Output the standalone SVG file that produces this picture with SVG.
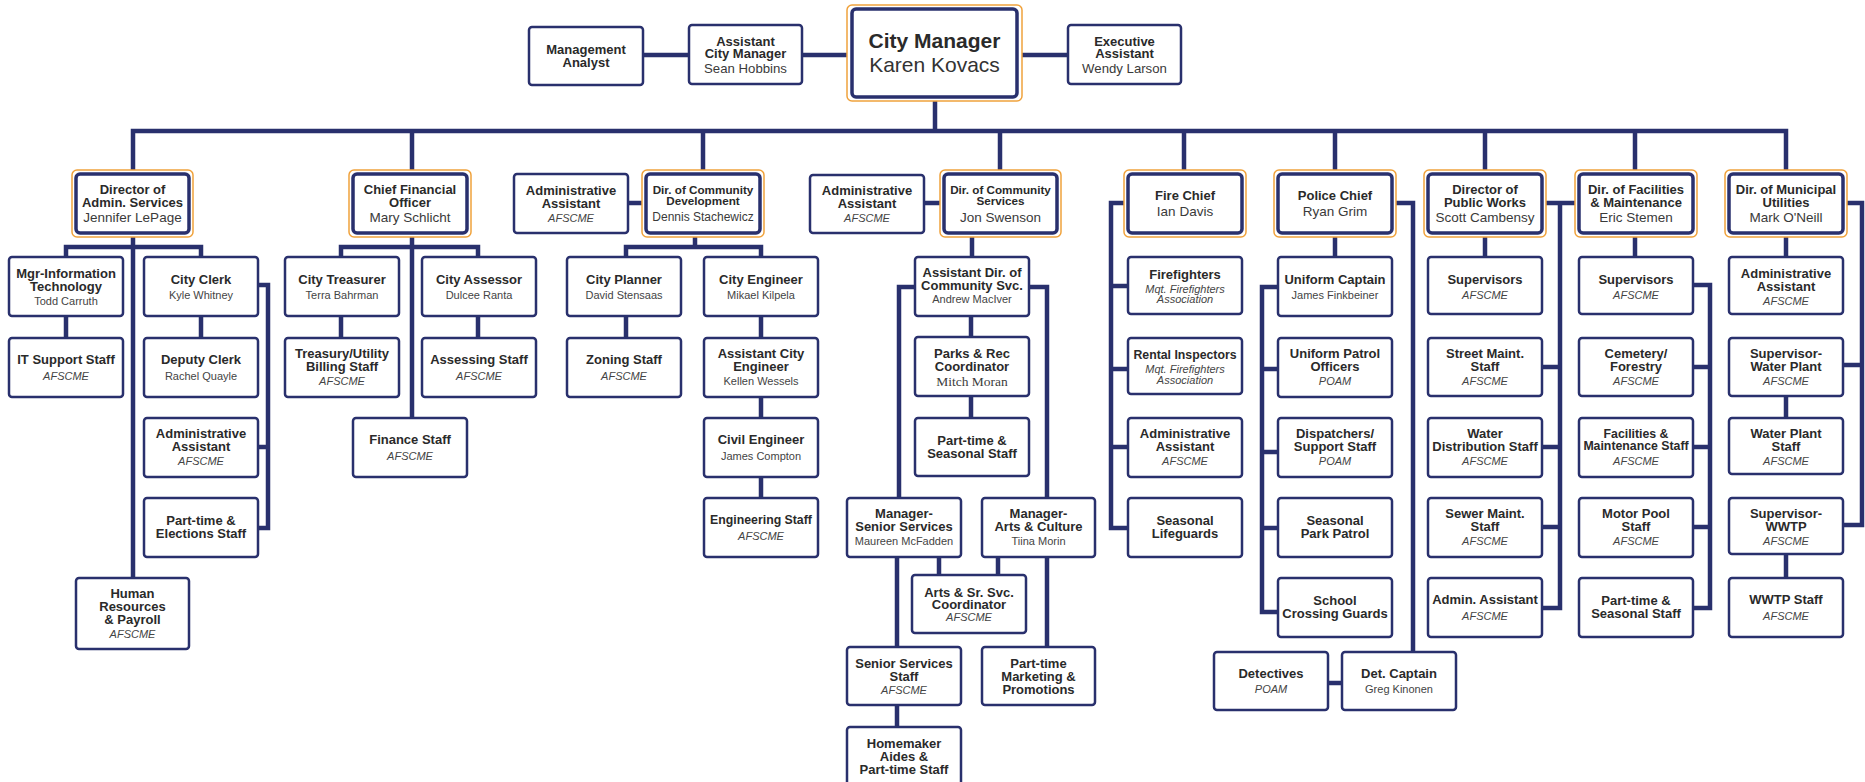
<svg xmlns="http://www.w3.org/2000/svg" width="1865" height="782" viewBox="0 0 1865 782">
<defs>
<style>
.bx{fill:#fff;stroke:#29306d;stroke-width:2.5}
.dx{fill:#fff;stroke:#29306d;stroke-width:3.5}
.ox{fill:#fff;stroke:#f0a23c;stroke-width:1.5}
.c{fill:none;stroke:#29306d;stroke-width:4.5;stroke-linejoin:miter;stroke-linecap:butt}
text{font-family:"Liberation Sans",Arial,sans-serif;text-anchor:middle}
.t{font-size:13px;font-weight:bold;fill:#2a2a2a}
.ts{font-size:12.3px;font-weight:bold;fill:#2a2a2a}
.n{font-size:11px;fill:#444}
.ns{font-size:13.5px;fill:#3c3c3c;font-family:"Liberation Serif",serif}
.u{font-size:11px;font-style:italic;fill:#444}
.dt{font-size:13px;font-weight:bold;fill:#2a2a2a}
.dts{font-size:11.7px;font-weight:bold;fill:#2a2a2a}
.dn{font-size:13.5px;fill:#3a3a3a}
.cm{font-size:21px;font-weight:bold;fill:#2a2a2a}
.cn{font-size:21px;fill:#333}
</style>
</defs>
<rect width="1865" height="782" fill="#fff"/>
<g id="connectors">
<path class="c" d="M643 55H689M802 55H852M1017 55H1068M935 97V131"/>
<path class="c" d="M133 171V131H1786V171M412 131V171M703 131V171M1000 131V171M1184 131V171M1335 131V171M1485 131V171M1635 131V171"/>
<path class="c" d="M628 203H646M924 203H944"/>
<path class="c" d="M66 257V247H201V257M133 233V578M66 316V338M201 316V338M258 285H268V528H258M258 447H268"/>
<path class="c" d="M341 257V247H478V257M412 233V418M341 316V338M478 316V338"/>
<path class="c" d="M695 233V247M626 257V247H761V498M626 316V338"/>
<path class="c" d="M972 233V257M971 316V337M971 396V418M915 287H899V498M1029 287H1047V498M939 557V575M998 557V575M897 557V647M897 705V727M1047 557V647"/>
<path class="c" d="M1128 203H1111V528H1128M1111 286H1128M1111 369H1128M1111 447H1128"/>
<path class="c" d="M1335 233V257M1278 287H1262V612H1278M1262 369H1278M1262 452H1278M1262 528H1278M1392 203H1413V652M1328 683H1342"/>
<path class="c" d="M1485 233V257M1542 203H1579M1560 203V608H1542M1542 367H1560M1542 447H1560M1542 527H1560"/>
<path class="c" d="M1635 233V257M1693 285H1710V608H1693M1693 367H1710M1693 447H1710M1693 527H1710"/>
<path class="c" d="M1786 233V257M1786 396V418M1786 554V578M1843 203H1862V525H1843M1843 365H1862"/>
</g>

<g id="management-analyst"><rect class="bx" x="529" y="27" width="114" height="58" rx="3"/><text class="t"><tspan x="586" y="53.8">Management</tspan><tspan x="586" y="67.2">Analyst</tspan></text></g>
<g id="assistant-city-manager"><rect class="bx" x="689" y="25" width="113" height="59" rx="3"/><text class="t"><tspan x="745.5" y="46.2">Assistant</tspan><tspan x="745.5" y="58.2">City Manager</tspan></text><text class="dn" x="745.5" y="73.3" style="font-size:13.2px">Sean Hobbins</text></g>
<g id="city-manager"><rect class="ox" x="847" y="5" width="175" height="96" rx="5"/><rect class="dx" x="852" y="9" width="165" height="88" rx="4"/><text class="cm" x="934.5" y="47.5">City Manager</text><text class="cn" x="934.5" y="71.5">Karen Kovacs</text></g>
<g id="executive-assistant"><rect class="bx" x="1068" y="25" width="113" height="59" rx="3"/><text class="t"><tspan x="1124.5" y="46.2">Executive</tspan><tspan x="1124.5" y="58.2">Assistant</tspan></text><text class="dn" x="1124.5" y="73.3" style="font-size:13.2px">Wendy Larson</text></g>

<g id="dir-admin-services"><rect class="ox" x="72" y="170" width="121" height="67" rx="5"/><rect class="dx" x="76" y="174" width="113" height="59" rx="4"/><text class="dt"><tspan x="132.5" y="193.8">Director of</tspan><tspan x="132.5" y="206.8">Admin. Services</tspan></text><text class="dn" x="132.5" y="222">Jennifer LePage</text></g>
<g id="cfo"><rect class="ox" x="349" y="170" width="122" height="67" rx="5"/><rect class="dx" x="353" y="174" width="114" height="59" rx="4"/><text class="dt"><tspan x="410" y="193.8">Chief Financial</tspan><tspan x="410" y="206.8">Officer</tspan></text><text class="dn" x="410" y="222">Mary Schlicht</text></g>
<g id="cd-admin-assistant"><rect class="bx" x="514" y="174" width="114" height="59" rx="3"/><text class="t"><tspan x="571" y="195.2">Administrative</tspan><tspan x="571" y="207.8">Assistant</tspan></text><text class="u" x="571" y="221.7">AFSCME</text></g>
<g id="dir-community-development"><rect class="ox" x="642" y="170" width="122" height="67" rx="5"/><rect class="dx" x="646" y="174" width="114" height="59" rx="4"/><text class="dts"><tspan x="703" y="194">Dir. of Community</tspan><tspan x="703" y="205">Development</tspan></text><text class="dn" x="703" y="221.3" style="font-size:12px">Dennis Stachewicz</text></g>
<g id="cs-admin-assistant"><rect class="bx" x="810" y="175" width="114" height="58" rx="3"/><text class="t"><tspan x="867" y="195.2">Administrative</tspan><tspan x="867" y="207.8">Assistant</tspan></text><text class="u" x="867" y="221.7">AFSCME</text></g>
<g id="dir-community-services"><rect class="ox" x="940" y="170" width="121" height="67" rx="5"/><rect class="dx" x="944" y="174" width="113" height="59" rx="4"/><text class="dts"><tspan x="1000.5" y="194">Dir. of Community</tspan><tspan x="1000.5" y="205">Services</tspan></text><text class="dn" x="1000.5" y="221.5">Jon Swenson</text></g>
<g id="fire-chief"><rect class="ox" x="1124" y="170" width="122" height="67" rx="5"/><rect class="dx" x="1128" y="174" width="114" height="59" rx="4"/><text class="dt" x="1185" y="199.5">Fire Chief</text><text class="dn" x="1185" y="215.5">Ian Davis</text></g>
<g id="police-chief"><rect class="ox" x="1274" y="170" width="122" height="67" rx="5"/><rect class="dx" x="1278" y="174" width="114" height="59" rx="4"/><text class="dt" x="1335" y="199.5">Police Chief</text><text class="dn" x="1335" y="215.5">Ryan Grim</text></g>
<g id="dir-public-works"><rect class="ox" x="1424" y="170" width="122" height="67" rx="5"/><rect class="dx" x="1428" y="174" width="114" height="59" rx="4"/><text class="dt"><tspan x="1485" y="193.8">Director of</tspan><tspan x="1485" y="206.8">Public Works</tspan></text><text class="dn" x="1485" y="222">Scott Cambensy</text></g>
<g id="dir-facilities"><rect class="ox" x="1575" y="170" width="122" height="67" rx="5"/><rect class="dx" x="1579" y="174" width="114" height="59" rx="4"/><text class="dt"><tspan x="1636" y="193.8">Dir. of Facilities</tspan><tspan x="1636" y="206.8">&amp; Maintenance</tspan></text><text class="dn" x="1636" y="222">Eric Stemen</text></g>
<g id="dir-utilities"><rect class="ox" x="1725" y="170" width="122" height="67" rx="5"/><rect class="dx" x="1729" y="174" width="114" height="59" rx="4"/><text class="dt"><tspan x="1786" y="193.8">Dir. of Municipal</tspan><tspan x="1786" y="206.8">Utilities</tspan></text><text class="dn" x="1786" y="222">Mark O'Neill</text></g>

<g id="mgr-it"><rect class="bx" x="9" y="257" width="114" height="59" rx="3"/><text class="t"><tspan x="66" y="277.5">Mgr-Information</tspan><tspan x="66" y="291">Technology</tspan></text><text class="n" x="66" y="305">Todd Carruth</text></g>
<g id="it-support"><rect class="bx" x="9" y="338" width="114" height="59" rx="3"/><text class="t" x="66" y="364.2">IT Support Staff</text><text class="u" x="66" y="379.7">AFSCME</text></g>
<g id="city-clerk"><rect class="bx" x="144" y="257" width="114" height="59" rx="3"/><text class="t" x="201" y="283.5">City Clerk</text><text class="n" x="201" y="299">Kyle Whitney</text></g>
<g id="deputy-clerk"><rect class="bx" x="144" y="338" width="114" height="59" rx="3"/><text class="t" x="201" y="364.2">Deputy Clerk</text><text class="n" x="201" y="379.7">Rachel Quayle</text></g>
<g id="clerk-admin-assistant"><rect class="bx" x="144" y="418" width="114" height="59" rx="3"/><text class="t"><tspan x="201" y="437.8">Administrative</tspan><tspan x="201" y="451.2">Assistant</tspan></text><text class="u" x="201" y="464.7">AFSCME</text></g>
<g id="elections-staff"><rect class="bx" x="144" y="498" width="114" height="59" rx="3"/><text class="t"><tspan x="201" y="524.8">Part-time &amp;</tspan><tspan x="201" y="538.2">Elections Staff</tspan></text></g>
<g id="human-resources"><rect class="bx" x="76" y="578" width="113" height="71" rx="3"/><text class="t"><tspan x="132.5" y="597.8">Human</tspan><tspan x="132.5" y="611.2">Resources</tspan><tspan x="132.5" y="624.2">&amp; Payroll</tspan></text><text class="u" x="132.5" y="638">AFSCME</text></g>

<g id="city-treasurer"><rect class="bx" x="285" y="257" width="114" height="59" rx="3"/><text class="t" x="342" y="283.5">City Treasurer</text><text class="n" x="342" y="299">Terra Bahrman</text></g>
<g id="billing-staff"><rect class="bx" x="285" y="338" width="114" height="59" rx="3"/><text class="t"><tspan x="342" y="357.8">Treasury/Utility</tspan><tspan x="342" y="371.2">Billing Staff</tspan></text><text class="u" x="342" y="384.7">AFSCME</text></g>
<g id="city-assessor"><rect class="bx" x="422" y="257" width="114" height="59" rx="3"/><text class="t" x="479" y="283.5">City Assessor</text><text class="n" x="479" y="299">Dulcee Ranta</text></g>
<g id="assessing-staff"><rect class="bx" x="422" y="338" width="114" height="59" rx="3"/><text class="t" x="479" y="364.2">Assessing Staff</text><text class="u" x="479" y="379.7">AFSCME</text></g>
<g id="finance-staff"><rect class="bx" x="353" y="418" width="114" height="59" rx="3"/><text class="t" x="410" y="444.2">Finance Staff</text><text class="u" x="410" y="459.7">AFSCME</text></g>

<g id="city-planner"><rect class="bx" x="567" y="257" width="114" height="59" rx="3"/><text class="t" x="624" y="283.5">City Planner</text><text class="n" x="624" y="299">David Stensaas</text></g>
<g id="zoning-staff"><rect class="bx" x="567" y="338" width="114" height="59" rx="3"/><text class="t" x="624" y="364.2">Zoning Staff</text><text class="u" x="624" y="379.7">AFSCME</text></g>
<g id="city-engineer"><rect class="bx" x="704" y="257" width="114" height="59" rx="3"/><text class="t" x="761" y="283.5">City Engineer</text><text class="n" x="761" y="299">Mikael Kilpela</text></g>
<g id="asst-city-engineer"><rect class="bx" x="704" y="338" width="114" height="59" rx="3"/><text class="t"><tspan x="761" y="357.8">Assistant City</tspan><tspan x="761" y="371.2">Engineer</tspan></text><text class="n" x="761" y="384.7">Kellen Wessels</text></g>
<g id="civil-engineer"><rect class="bx" x="704" y="418" width="114" height="59" rx="3"/><text class="t" x="761" y="444.2">Civil Engineer</text><text class="n" x="761" y="459.7">James Compton</text></g>
<g id="engineering-staff"><rect class="bx" x="704" y="498" width="114" height="59" rx="3"/><text class="ts" x="761" y="524.2">Engineering Staff</text><text class="u" x="761" y="539.7">AFSCME</text></g>

<g id="asst-dir-community-svc"><rect class="bx" x="915" y="257" width="114" height="59" rx="3"/><text class="t"><tspan x="972" y="277.2">Assistant Dir. of</tspan><tspan x="972" y="290.2">Community Svc.</tspan></text><text class="n" x="972" y="303">Andrew MacIver</text></g>
<g id="parks-rec"><rect class="bx" x="915" y="337" width="114" height="59" rx="3"/><text class="t"><tspan x="972" y="358.2">Parks &amp; Rec</tspan><tspan x="972" y="371.2">Coordinator</tspan></text><text class="ns" x="972" y="386.2">Mitch Moran</text></g>
<g id="cs-seasonal-staff"><rect class="bx" x="915" y="418" width="114" height="58" rx="3"/><text class="t"><tspan x="972" y="444.8">Part-time &amp;</tspan><tspan x="972" y="457.8">Seasonal Staff</tspan></text></g>
<g id="mgr-senior-services"><rect class="bx" x="847" y="498" width="114" height="59" rx="3"/><text class="t"><tspan x="904" y="517.8">Manager-</tspan><tspan x="904" y="530.5">Senior Services</tspan></text><text class="n" x="904" y="544.8">Maureen McFadden</text></g>
<g id="mgr-arts-culture"><rect class="bx" x="982" y="498" width="113" height="59" rx="3"/><text class="t"><tspan x="1038.5" y="517.8">Manager-</tspan><tspan x="1038.5" y="530.5">Arts &amp; Culture</tspan></text><text class="n" x="1038.5" y="544.8">Tiina Morin</text></g>
<g id="arts-sr-coordinator"><rect class="bx" x="912" y="575" width="114" height="58" rx="3"/><text class="t"><tspan x="969" y="596.5">Arts &amp; Sr. Svc.</tspan><tspan x="969" y="609.2">Coordinator</tspan></text><text class="u" x="969" y="621">AFSCME</text></g>
<g id="senior-services-staff"><rect class="bx" x="847" y="647" width="114" height="58" rx="3"/><text class="t"><tspan x="904" y="667.8">Senior Services</tspan><tspan x="904" y="681.2">Staff</tspan></text><text class="u" x="904" y="693.7">AFSCME</text></g>
<g id="homemaker-aides"><rect class="bx" x="847" y="727" width="114" height="62" rx="3"/><text class="t"><tspan x="904" y="747.8">Homemaker</tspan><tspan x="904" y="761.2">Aides &amp;</tspan><tspan x="904" y="773.8">Part-time Staff</tspan></text></g>
<g id="marketing-promotions"><rect class="bx" x="982" y="647" width="113" height="58" rx="3"/><text class="t"><tspan x="1038.5" y="668.2">Part-time</tspan><tspan x="1038.5" y="681.2">Marketing &amp;</tspan><tspan x="1038.5" y="693.8">Promotions</tspan></text></g>

<g id="firefighters"><rect class="bx" x="1128" y="257" width="114" height="57" rx="3"/><text class="t" x="1185" y="278.8">Firefighters</text><text class="u"><tspan x="1185" y="293">Mqt. Firefighters</tspan><tspan x="1185" y="302.7">Association</tspan></text></g>
<g id="rental-inspectors"><rect class="bx" x="1128" y="338" width="114" height="56" rx="3"/><text class="ts" x="1185" y="358.8">Rental Inspectors</text><text class="u"><tspan x="1185" y="373">Mqt. Firefighters</tspan><tspan x="1185" y="383.7">Association</tspan></text></g>
<g id="fire-admin-assistant"><rect class="bx" x="1128" y="418" width="114" height="59" rx="3"/><text class="t"><tspan x="1185" y="437.8">Administrative</tspan><tspan x="1185" y="451.2">Assistant</tspan></text><text class="u" x="1185" y="464.7">AFSCME</text></g>
<g id="seasonal-lifeguards"><rect class="bx" x="1128" y="498" width="114" height="59" rx="3"/><text class="t"><tspan x="1185" y="524.8">Seasonal</tspan><tspan x="1185" y="538.2">Lifeguards</tspan></text></g>

<g id="uniform-captain"><rect class="bx" x="1278" y="257" width="114" height="59" rx="3"/><text class="t" x="1335" y="283.5">Uniform Captain</text><text class="n" x="1335" y="299">James Finkbeiner</text></g>
<g id="patrol-officers"><rect class="bx" x="1278" y="338" width="114" height="59" rx="3"/><text class="t"><tspan x="1335" y="357.8">Uniform Patrol</tspan><tspan x="1335" y="371.2">Officers</tspan></text><text class="u" x="1335" y="384.7">POAM</text></g>
<g id="dispatchers"><rect class="bx" x="1278" y="418" width="114" height="59" rx="3"/><text class="t"><tspan x="1335" y="437.8">Dispatchers/</tspan><tspan x="1335" y="451.2">Support Staff</tspan></text><text class="u" x="1335" y="464.7">POAM</text></g>
<g id="park-patrol"><rect class="bx" x="1278" y="498" width="114" height="59" rx="3"/><text class="t"><tspan x="1335" y="524.8">Seasonal</tspan><tspan x="1335" y="538.2">Park Patrol</tspan></text></g>
<g id="crossing-guards"><rect class="bx" x="1278" y="578" width="114" height="59" rx="3"/><text class="t"><tspan x="1335" y="604.8">School</tspan><tspan x="1335" y="618.2">Crossing Guards</tspan></text></g>
<g id="detectives"><rect class="bx" x="1214" y="652" width="114" height="58" rx="3"/><text class="t" x="1271" y="678.2">Detectives</text><text class="u" x="1271" y="692.7">POAM</text></g>
<g id="det-captain"><rect class="bx" x="1342" y="652" width="114" height="58" rx="3"/><text class="t" x="1399" y="678.2">Det. Captain</text><text class="n" x="1399" y="692.7">Greg Kinonen</text></g>

<g id="pw-supervisors"><rect class="bx" x="1428" y="257" width="114" height="57" rx="3"/><text class="t" x="1485" y="283.5">Supervisors</text><text class="u" x="1485" y="299">AFSCME</text></g>
<g id="street-maint"><rect class="bx" x="1428" y="338" width="114" height="58" rx="3"/><text class="t"><tspan x="1485" y="357.8">Street Maint.</tspan><tspan x="1485" y="371.2">Staff</tspan></text><text class="u" x="1485" y="384.7">AFSCME</text></g>
<g id="water-distribution"><rect class="bx" x="1428" y="418" width="114" height="59" rx="3"/><text class="t"><tspan x="1485" y="437.8">Water</tspan><tspan x="1485" y="451.2">Distribution Staff</tspan></text><text class="u" x="1485" y="464.7">AFSCME</text></g>
<g id="sewer-maint"><rect class="bx" x="1428" y="498" width="114" height="59" rx="3"/><text class="t"><tspan x="1485" y="517.8">Sewer Maint.</tspan><tspan x="1485" y="531.2">Staff</tspan></text><text class="u" x="1485" y="544.7">AFSCME</text></g>
<g id="pw-admin-assistant"><rect class="bx" x="1428" y="578" width="114" height="59" rx="3"/><text class="t" x="1485" y="604.2">Admin. Assistant</text><text class="u" x="1485" y="619.7">AFSCME</text></g>

<g id="fm-supervisors"><rect class="bx" x="1579" y="257" width="114" height="57" rx="3"/><text class="t" x="1636" y="283.5">Supervisors</text><text class="u" x="1636" y="299">AFSCME</text></g>
<g id="cemetery-forestry"><rect class="bx" x="1579" y="338" width="114" height="58" rx="3"/><text class="t"><tspan x="1636" y="357.8">Cemetery/</tspan><tspan x="1636" y="371.2">Forestry</tspan></text><text class="u" x="1636" y="384.7">AFSCME</text></g>
<g id="facilities-staff"><rect class="bx" x="1579" y="418" width="114" height="59" rx="3"/><text class="ts"><tspan x="1636" y="437.5">Facilities &amp;</tspan><tspan x="1636" y="449.8">Maintenance Staff</tspan></text><text class="u" x="1636" y="464.7">AFSCME</text></g>
<g id="motor-pool"><rect class="bx" x="1579" y="498" width="114" height="59" rx="3"/><text class="t"><tspan x="1636" y="517.8">Motor Pool</tspan><tspan x="1636" y="531.2">Staff</tspan></text><text class="u" x="1636" y="544.7">AFSCME</text></g>
<g id="fm-seasonal-staff"><rect class="bx" x="1579" y="578" width="114" height="59" rx="3"/><text class="t"><tspan x="1636" y="604.8">Part-time &amp;</tspan><tspan x="1636" y="618.2">Seasonal Staff</tspan></text></g>

<g id="util-admin-assistant"><rect class="bx" x="1729" y="257" width="114" height="57" rx="3"/><text class="t"><tspan x="1786" y="277.8">Administrative</tspan><tspan x="1786" y="291.2">Assistant</tspan></text><text class="u" x="1786" y="304.7">AFSCME</text></g>
<g id="sup-water-plant"><rect class="bx" x="1729" y="338" width="114" height="58" rx="3"/><text class="t"><tspan x="1786" y="357.8">Supervisor-</tspan><tspan x="1786" y="371.2">Water Plant</tspan></text><text class="u" x="1786" y="384.7">AFSCME</text></g>
<g id="water-plant-staff"><rect class="bx" x="1729" y="418" width="114" height="56" rx="3"/><text class="t"><tspan x="1786" y="437.8">Water Plant</tspan><tspan x="1786" y="451.2">Staff</tspan></text><text class="u" x="1786" y="464.7">AFSCME</text></g>
<g id="sup-wwtp"><rect class="bx" x="1729" y="498" width="114" height="56" rx="3"/><text class="t"><tspan x="1786" y="517.8">Supervisor-</tspan><tspan x="1786" y="531.2">WWTP</tspan></text><text class="u" x="1786" y="544.7">AFSCME</text></g>
<g id="wwtp-staff"><rect class="bx" x="1729" y="578" width="114" height="59" rx="3"/><text class="t" x="1786" y="604.2">WWTP Staff</text><text class="u" x="1786" y="619.7">AFSCME</text></g>
</svg>
